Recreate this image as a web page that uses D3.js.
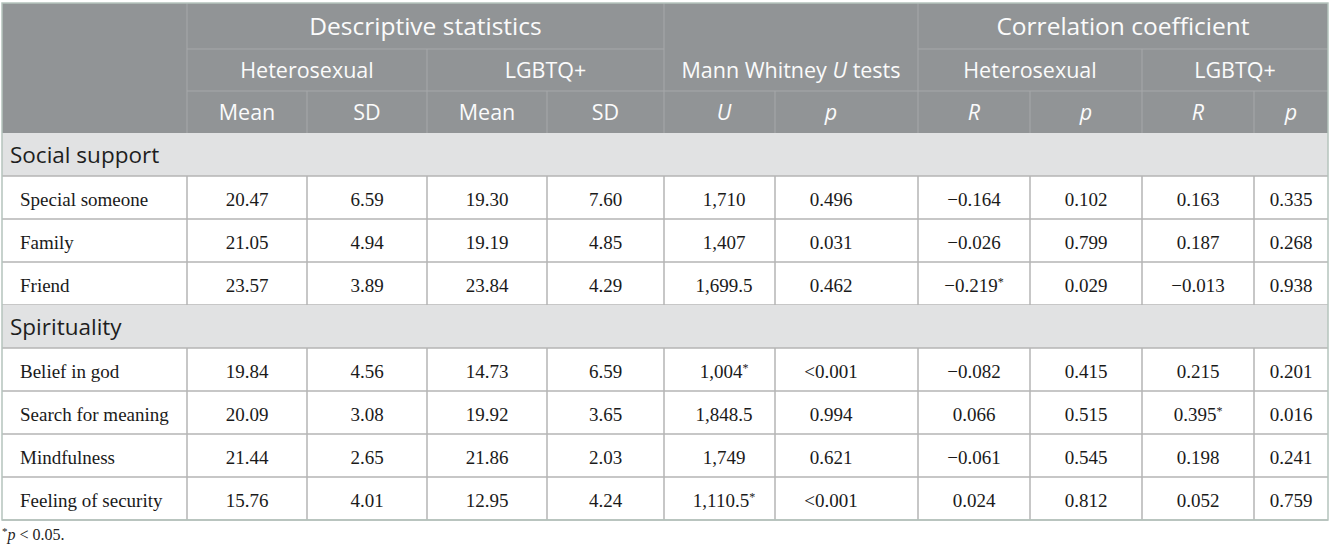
<!DOCTYPE html>
<html>
<head>
<meta charset="utf-8">
<script src="https://cdn.jsdelivr.net/npm/d3@7"></script>
<style>
  body { margin: 0; background: #fff; }
  svg { display: block; }
</style>
</head>
<body>
<svg id="chart" width="1333" height="552"></svg>
<script>
// table content
const sections = ["Social support", "Spirituality"]
const rowLabels = [
  ["Special someone", "Family", "Friend"],
  ["Belief in god", "Search for meaning", "Mindfulness", "Feeling of security"]
]
const heteroMean = [["20.47", "21.05", "23.57"], ["19.84", "20.09", "21.44", "15.76"]]
const heteroSD   = [["6.59", "4.94", "3.89"], ["4.56", "3.08", "2.65", "4.01"]]
const lgbtqMean  = [["19.30", "19.19", "23.84"], ["14.73", "19.92", "21.86", "12.95"]]
const lgbtqSD    = [["7.60", "4.85", "4.29"], ["6.59", "3.65", "2.03", "4.24"]]
const mwU        = [["1,710", "1,407", "1,699.5"], ["1,004*", "1,848.5", "1,749", "1,110.5*"]]
const mwP        = [["0.496", "0.031", "0.462"], ["<0.001", "0.994", "0.621", "<0.001"]]
const heteroR    = [["\u22120.164", "\u22120.026", "\u22120.219*"], ["\u22120.082", "0.066", "\u22120.061", "0.024"]]
const heteroP    = [["0.102", "0.799", "0.029"], ["0.415", "0.515", "0.545", "0.812"]]
const lgbtqR     = [["0.163", "0.187", "\u22120.013"], ["0.215", "0.395*", "0.198", "0.052"]]
const lgbtqP     = [["0.335", "0.268", "0.938"], ["0.201", "0.016", "0.241", "0.759"]]

const topHeaders = [
  { text: "Descriptive statistics", from: 1, to: 4 },
  { text: "Correlation coefficient", from: 7, to: 10 }
]
const midHeaders = [
  { text: "Heterosexual", from: 1, to: 2 },
  { text: "LGBTQ+", from: 3, to: 4 },
  { text: "Heterosexual", from: 7, to: 8 },
  { text: "LGBTQ+", from: 9, to: 10 }
]
const subHeaders = [
  { text: "Mean", italic: false }, { text: "SD", italic: false },
  { text: "Mean", italic: false }, { text: "SD", italic: false },
  { text: "U", italic: true }, { text: "p", italic: true },
  { text: "R", italic: true }, { text: "p", italic: true },
  { text: "R", italic: true }, { text: "p", italic: true }
]
const columns = [heteroMean, heteroSD, lgbtqMean, lgbtqSD, mwU, mwP, heteroR, heteroP, lgbtqR, lgbtqP]

// layout
const colEdges = [2, 187, 307, 427, 547, 664, 775, 918, 1030, 1142, 1254, 1328]
const headerEdges = [3, 49, 91, 133]
const rowH = 43
const sansFont = "'Open Sans', 'Noto Sans', sans-serif"
const serifFont = "'Liberation Serif', 'DejaVu Serif', serif"

const svg = d3.select("#chart")
const left = colEdges[0], right = colEdges[colEdges.length - 1]
const colMid = i => (colEdges[i] + colEdges[i + 1]) / 2
// the Mann Whitney columns sit a little off their cell centres
const textX = i => i === 5 ? 724 : i === 6 ? 831 : colMid(i)

// header block
svg.append("rect")
  .attr("x", left).attr("y", headerEdges[0])
  .attr("width", right - left).attr("height", headerEdges[3] - headerEdges[0])
  .attr("fill", "#919496")

const hLine = "#a6a8aa"
const hg = svg.append("g")
// horizontal header lines
hg.append("line").attr("x1", colEdges[1]).attr("x2", colEdges[5]).attr("y1", headerEdges[1]).attr("y2", headerEdges[1]).attr("stroke", hLine)
hg.append("line").attr("x1", colEdges[7]).attr("x2", right).attr("y1", headerEdges[1]).attr("y2", headerEdges[1]).attr("stroke", hLine)
hg.append("line").attr("x1", colEdges[1]).attr("x2", right).attr("y1", headerEdges[2]).attr("y2", headerEdges[2]).attr("stroke", hLine)
// vertical header lines
const vHeader = [
  [1, 0, 3], [5, 0, 3], [7, 0, 3],
  [3, 1, 3], [9, 1, 3],
  [2, 2, 3], [4, 2, 3], [6, 2, 3], [8, 2, 3], [10, 2, 3]
]
vHeader.forEach(([c, r0, r1]) => {
  hg.append("line")
    .attr("x1", colEdges[c]).attr("x2", colEdges[c])
    .attr("y1", headerEdges[r0]).attr("y2", headerEdges[r1])
    .attr("stroke", hLine)
})

const headText = (x, y, t) => hg.append("text")
  .attr("x", x).attr("y", y)
  .attr("text-anchor", "middle")
  .attr("font-family", sansFont)
  .attr("fill", "#fbfbfb")
  .text(t)

topHeaders.forEach(h => {
  headText((colEdges[h.from] + colEdges[h.to + 1]) / 2, headerEdges[0] + 32, h.text)
    .attr("font-size", 24.5)
})
midHeaders.forEach(h => {
  headText((colEdges[h.from] + colEdges[h.to + 1]) / 2, headerEdges[1] + 29, h.text)
    .attr("font-size", 21.5)
})
// Mann Whitney header spans both header rows
const mw = headText((colEdges[5] + colEdges[7]) / 2, headerEdges[1] + 29, null)
  .attr("font-size", 21.5)
mw.append("tspan").text("Mann Whitney ")
mw.append("tspan").attr("font-style", "italic").text("U")
mw.append("tspan").text(" tests")

subHeaders.forEach((h, i) => {
  headText(textX(i + 1), headerEdges[2] + 29, h.text)
    .attr("font-size", 21.5)
    .attr("font-style", h.italic ? "italic" : "normal")
})

// body
const lineCol = "#b4b4b4"
const bg = svg.append("g")
let y = headerEdges[3]
sections.forEach((s, si) => {
  bg.append("rect")
    .attr("x", left).attr("y", y).attr("width", right - left).attr("height", rowH)
    .attr("fill", "#e1e2e3")
  bg.append("text")
    .attr("x", 10).attr("y", y + 30)
    .attr("font-family", sansFont).attr("font-size", 22.5)
    .attr("fill", "#1e1e1e")
    .text(s)
  bg.append("line").attr("x1", left).attr("x2", right).attr("y1", y + rowH).attr("y2", y + rowH)
    .attr("stroke", lineCol).attr("stroke-width", 1.5)
  y += rowH
  rowLabels[si].forEach((lab, ri) => {
    const ty = y + 30
    bg.append("text")
      .attr("x", 20).attr("y", ty)
      .attr("font-family", serifFont).attr("font-size", 19)
      .attr("fill", "#1a1a1a")
      .text(lab)
    columns.forEach((col, ci) => {
      const v = col[si][ri]
      const t = bg.append("text")
        .attr("x", textX(ci + 1)).attr("y", ty)
        .attr("text-anchor", "middle")
        .attr("font-family", serifFont).attr("font-size", 19)
        .attr("fill", "#1a1a1a")
      if (v.endsWith("*")) {
        t.append("tspan").text(v.slice(0, -1))
        t.append("tspan").attr("font-size", 12).attr("dy", -6).text("*")
      } else {
        t.text(v)
      }
    })
    colEdges.slice(1, -1).forEach(cx => {
      bg.append("line").attr("x1", cx).attr("x2", cx).attr("y1", y).attr("y2", y + rowH)
        .attr("stroke", lineCol).attr("stroke-width", 1.5)
    })
    bg.append("line").attr("x1", left).attr("x2", right).attr("y1", y + rowH).attr("y2", y + rowH)
      .attr("stroke", lineCol).attr("stroke-width", 1.5)
    y += rowH
  })
})

// outer border
svg.append("rect")
  .attr("x", left).attr("y", headerEdges[0])
  .attr("width", right - left).attr("height", y - headerEdges[0])
  .attr("fill", "none").attr("stroke", "#b5c4bd").attr("stroke-width", 1.5)

// footnote
const fn = svg.append("text")
  .attr("x", 2).attr("y", y + 20)
  .attr("font-family", serifFont).attr("font-size", 16)
  .attr("fill", "#222")
fn.append("tspan").attr("font-size", 11).attr("dy", -5).text("*")
fn.append("tspan").attr("font-style", "italic").attr("dy", 5).text("p")
fn.append("tspan").text(" < 0.05.")
</script>
</body>
</html>
